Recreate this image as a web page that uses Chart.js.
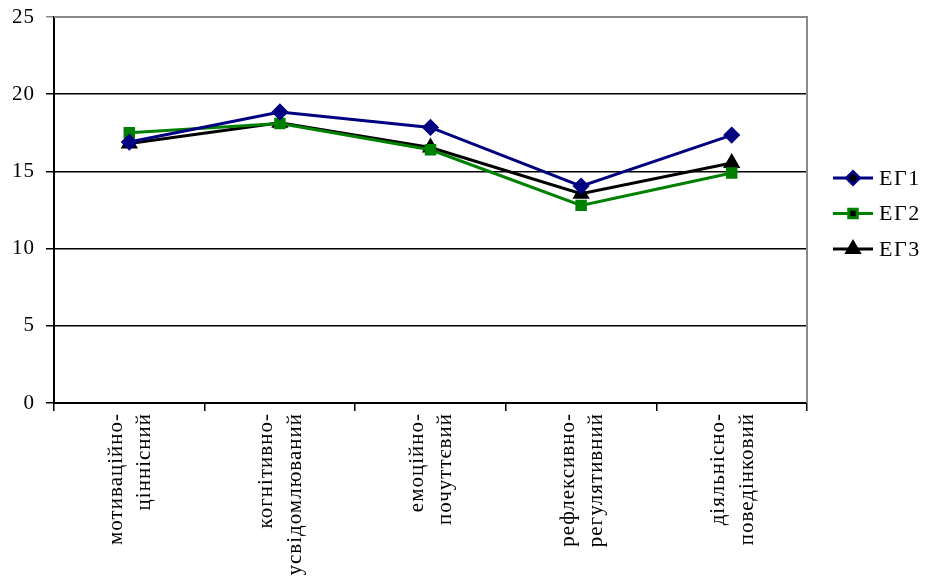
<!DOCTYPE html>
<html>
<head>
<meta charset="utf-8">
<script src="https://cdn.jsdelivr.net/npm/chart.js@4/dist/chart.umd.min.js"></script>
<style>
  html, body { margin: 0; padding: 0; background: #fff; }
  #wrap { width: 925px; height: 578px; }
</style>
</head>
<body>
<div id="wrap"><canvas id="chart"></canvas></div>
<script>
// Data
const categories = [
    ['мотиваційно-', 'ціннісний'],
    ['когнітивно-', 'усвідомлюваний'],
    ['емоційно-', 'почуттєвий'],
    ['рефлексивно-', 'регулятивний'],
    ['діяльнісно-', 'поведінковий']
];
const eg1 = [16.9, 18.85, 17.85, 14.05, 17.35];
const eg2 = [17.5, 18.1, 16.4, 12.8, 14.9];
const eg3 = [16.8, 18.15, 16.55, 13.55, 15.55];
const seriesNames = ['ЕГ1', 'ЕГ2', 'ЕГ3'];
const yTicks = [0, 5, 10, 15, 20, 25];

const FONT = 'Liberation Serif, Times New Roman, serif';

// slightly wider text, like the original
const spacingPlugin = {
    id: 'spacing',
    beforeLayout(chart) { chart.ctx.letterSpacing = '1px'; },
    beforeDraw(chart) { chart.ctx.letterSpacing = '1px'; }
};

// Gray frame on top/right of plot area + legend at the right
const framePlugin = {
    id: 'frame',
    afterDraw(chart) {
        const { ctx, chartArea } = chart;
        ctx.save();
        ctx.strokeStyle = '#8a8a8a';
        ctx.lineWidth = 2;
        ctx.beginPath();
        ctx.moveTo(chartArea.left, chartArea.top);
        ctx.lineTo(chartArea.right, chartArea.top);
        ctx.lineTo(chartArea.right, chartArea.bottom);
        ctx.stroke();

        // legend
        const x0 = chartArea.right + 26;
        chart.data.datasets.forEach((ds, i) => {
            const y = 178 + i * 35.5;
            ctx.strokeStyle = ds.borderColor;
            ctx.lineWidth = 3;
            ctx.beginPath();
            ctx.moveTo(x0, y);
            ctx.lineTo(x0 + 40, y);
            ctx.stroke();
            Chart.helpers.drawPoint(ctx, {
                pointStyle: ds.pointStyle,
                radius: ds.pointRadius,
                borderWidth: 1
            }, x0 + 20, y);
            ctx.fillStyle = '#000';
            ctx.font = '22px ' + FONT;
            ctx.letterSpacing = '1.5px';
            ctx.textBaseline = 'middle';
            ctx.textAlign = 'left';
            ctx.fillText(ds.label, x0 + 46, y + 1);
        });
        ctx.restore();
    }
};

const mk = (label, data, color, style, r) => ({
    label: label,
    data: data,
    borderColor: color,
    backgroundColor: color,
    pointBackgroundColor: color,
    pointBorderColor: color,
    pointStyle: style,
    pointRadius: r,
    pointHoverRadius: r,
    borderWidth: 3,
    tension: 0
});

new Chart(document.getElementById('chart').getContext('2d'), {
    type: 'line',
    data: {
        labels: categories,
        datasets: [
            mk(seriesNames[0], eg1, '#000080', 'rectRot', 6.5),
            mk(seriesNames[1], eg2, '#008000', 'rect', 6),
            mk(seriesNames[2], eg3, '#000000', 'triangle', 7)
        ]
    },
    options: {
        responsive: true,
        maintainAspectRatio: false,
        animation: false,
        layout: { padding: { top: 17, right: 118, left: 0, bottom: 0 } },
        plugins: {
            legend: { display: false },
            tooltip: { enabled: false }
        },
        scales: {
            x: {
                offset: true,
                grid: {
                    offset: true,
                    drawOnChartArea: false,
                    color: '#000',
                    tickLength: 8,
                    lineWidth: 1.5
                },
                border: { color: '#000', width: 2 },
                ticks: {
                    color: '#000',
                    font: { family: FONT, size: 21, lineHeight: 1.35 },
                    maxRotation: 90,
                    minRotation: 90,
                    padding: 2,
                    labelOffset: -13,
                    autoSkip: false
                },
                afterFit(scale) { scale.height = 175; }
            },
            y: {
                min: 0,
                max: 25,
                afterBuildTicks(scale) {
                    scale.ticks = yTicks.map(v => ({ value: v }));
                },
                grid: {
                    color: ctx => ctx.tick && ctx.tick.value === 25 ? '#8a8a8a' : '#000',
                    lineWidth: 1.5,
                    tickLength: 8
                },
                border: { color: '#000', width: 2 },
                ticks: {
                    color: '#000',
                    font: { family: FONT, size: 21 },
                    padding: 11
                },
                afterFit(scale) {
                    scale.width = 54;
                    scale.paddingTop = 0;
                    scale.paddingBottom = 0;
                }
            }
        }
    },
    plugins: [spacingPlugin, framePlugin]
});
</script>
</body>
</html>
